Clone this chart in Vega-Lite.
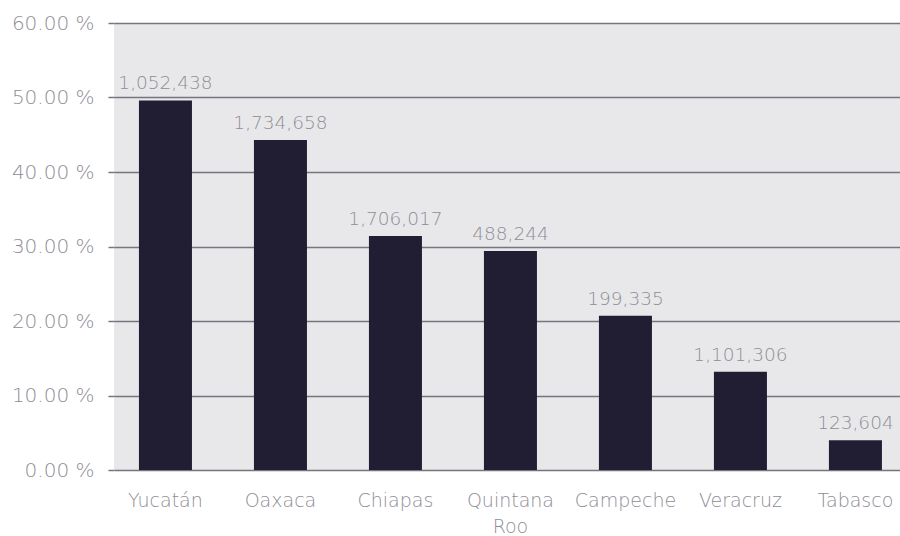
{
  "$schema": "https://vega.github.io/schema/vega-lite/v6.json",
  "autosize": {"type": "none"},
  "width": 786,
  "height": 447,
  "padding": {"left": 114, "top": 23, "right": 0, "bottom": 66},
  "background": "#ffffff",
  "config": {
    "view": {"fill": "#e8e8ea", "stroke": null},
    "font": "DejaVu Sans"
  },
  "data": {
    "values": [
      {"estado": "Yucatán", "pct": 49.6, "poblacion": "1,052,438"},
      {"estado": "Oaxaca", "pct": 44.3, "poblacion": "1,734,658"},
      {"estado": "Chiapas", "pct": 31.4, "poblacion": "1,706,017"},
      {"estado": "Quintana Roo", "pct": 29.4, "poblacion": "488,244"},
      {"estado": "Campeche", "pct": 20.7, "poblacion": "199,335"},
      {"estado": "Veracruz", "pct": 13.2, "poblacion": "1,101,306"},
      {"estado": "Tabasco", "pct": 4.0, "poblacion": "123,604"}
    ]
  },
  "encoding": {
    "x": {
      "field": "estado",
      "type": "nominal",
      "sort": null,
      "scale": {"paddingInner": 0.539, "paddingOuter": 0.187, "align": 0.58},
      "axis": {
        "title": null,
        "labelAngle": 0,
        "domain": false,
        "ticks": false,
        "labelFont": "DejaVu Sans",
        "labelFontWeight": 200,
        "labelFontSize": 19,
        "labelColor": "#8e8d95",
        "labelPadding": 21,
        "labelLineHeight": 26,
        "labelExpr": "datum.label == 'Quintana Roo' ? ['Quintana', 'Roo'] : datum.label"
      }
    },
    "y": {
      "field": "pct",
      "type": "quantitative",
      "scale": {"domain": [0, 60], "nice": false},
      "axis": {
        "title": null,
        "values": [0, 10, 20, 30, 40, 50, 60],
        "domain": false,
        "grid": true,
        "gridColor": "#76747f",
        "gridWidth": 1.5,
        "gridOpacity": 1,
        "ticks": true,
        "tickSize": 6,
        "tickColor": "#76747f",
        "tickWidth": 1.5,
        "labelFont": "DejaVu Sans",
        "labelFontWeight": 200,
        "labelFontSize": 20,
        "labelColor": "#8e8d95",
        "labelPadding": 14,
        "labelExpr": "format(datum.value, '.2f') + ' %'"
      }
    }
  },
  "layer": [
    {"mark": {"type": "bar", "color": "#211e33"}},
    {
      "mark": {
        "type": "text",
        "baseline": "alphabetic",
        "dy": -11,
        "font": "DejaVu Sans",
        "fontWeight": 200,
        "fontSize": 18.5,
        "color": "#8e8d95"
      },
      "encoding": {"text": {"field": "poblacion", "type": "nominal"}}
    }
  ]
}
